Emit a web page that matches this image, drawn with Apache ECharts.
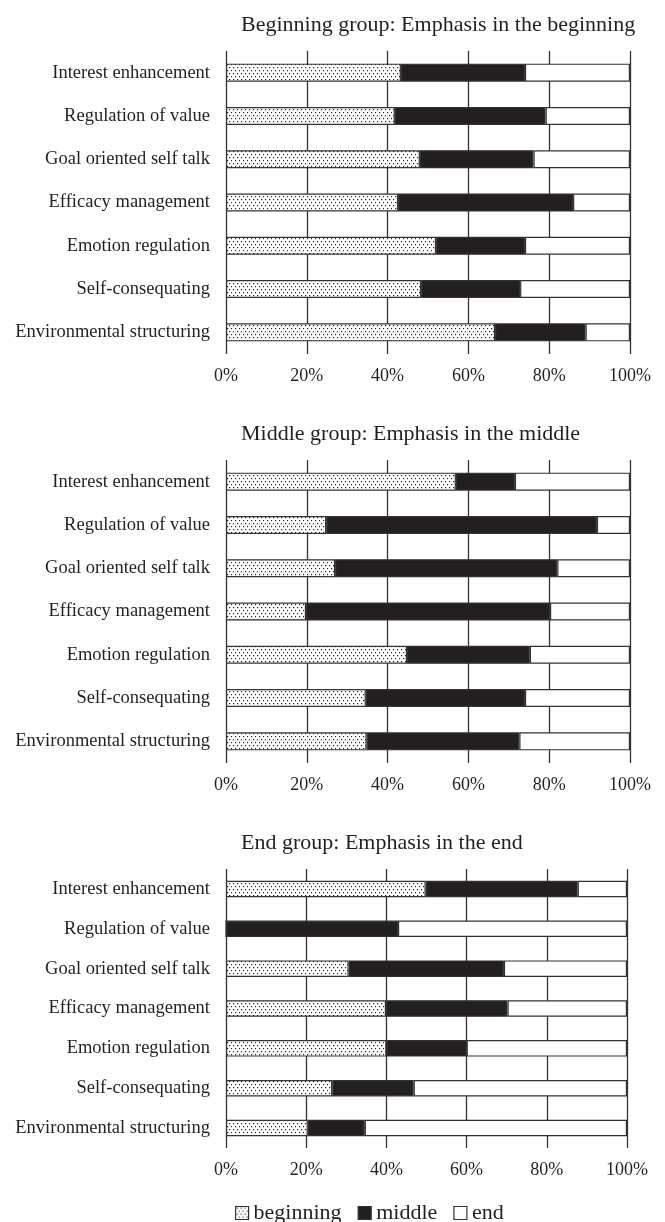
<!DOCTYPE html>
<html>
<head>
<meta charset="utf-8">
<script src="https://cdn.jsdelivr.net/npm/echarts@6/dist/echarts.min.js"></script>
<style>
html, body { margin: 0; padding: 0; background: #fff; }
#main { width: 665px; height: 1222px; }
</style>
</head>
<body>
<div id="main"></div>
<script>
// categories, top to bottom
let cats = ['Interest enhancement', 'Regulation of value', 'Goal oriented self talk',
    'Efficacy management', 'Emotion regulation', 'Self-consequating', 'Environmental structuring'];
let ticks = [0, 20, 40, 60, 80, 100];

let titles = ['Beginning group: Emphasis in the beginning',
    'Middle group: Emphasis in the middle',
    'End group: Emphasis in the end'];

// Beginning group (%)
let begBeginning = [43.3, 41.8, 48.0, 42.6, 52.0, 48.3, 66.6];
let begMiddle    = [30.7, 37.3, 28.1, 43.3, 22.0, 24.5, 22.4];
let begEnd       = [26.0, 20.9, 23.9, 14.1, 26.0, 27.2, 11.0];

// Middle group (%)
let midBeginning = [56.9, 24.8, 27.0, 19.8, 44.8, 34.6, 34.8];
let midMiddle    = [14.6, 67.0, 55.0, 60.4, 30.4, 39.4, 37.8];
let midEnd       = [28.5, 8.2, 18.0, 19.8, 24.8, 26.0, 27.4];

// End group (%)
let endBeginning = [49.8, 0, 30.6, 39.9, 40.0, 26.5, 20.4];
let endMiddle    = [37.9, 42.9, 38.7, 30.3, 20.0, 20.3, 14.2];
let endEnd       = [12.3, 57.1, 30.7, 29.8, 40.0, 53.2, 65.4];

let groups = [
    [begBeginning, begMiddle, begEnd],
    [midBeginning, midMiddle, midEnd],
    [endBeginning, endMiddle, endEnd]
];

let ink = '#231f20';
let lineCol = '#333';
let font = '"Liberation Serif", "DejaVu Serif", serif';

// dotted fill for "beginning"
function dots() {
    let c = document.createElement('canvas');
    c.width = 8;
    c.height = 6;
    let ctx = c.getContext('2d');
    ctx.fillStyle = '#fff';
    ctx.fillRect(0, 0, 8, 6);
    ctx.fillStyle = '#222';
    [[1, 1], [5, 1], [3, 4], [7, 4]].forEach(p => ctx.fillRect(p[0], p[1], 1.2, 1.2));
    return c;
}
let dotFill = { image: dots(), repeat: 'repeat' };

// panel layout
let panels = [
    { title: 14, top: 51, height: 303, right: 35, bar: 18 },
    { title: 423, top: 460, height: 303, right: 35, bar: 18 },
    { title: 832, top: 869, height: 279, right: 38, bar: 16.5 }
];

let names = ['beginning', 'middle', 'end'];
let fills = [dotFill, ink, '#fff'];

let title = [], grid = [], xAxis = [], yAxis = [], series = [];

panels.forEach((p, i) => {
    title.push({
        text: titles[i],
        left: 241,
        top: p.title,
        padding: 0,
        textStyle: { fontFamily: font, fontSize: 22, fontWeight: 'normal', color: ink }
    });
    grid.push({ left: 226, right: p.right, top: p.top, height: p.height });
    xAxis.push({
        type: 'value',
        gridIndex: i,
        min: 0,
        max: 100,
        interval: 20,
        axisLine: { show: false },
        axisTick: { show: false },
        axisLabel: { formatter: '{value}%', fontFamily: font, fontSize: 18, color: ink, margin: 13 },
        splitLine: { show: true, lineStyle: { color: lineCol, width: 1.3 } }
    });
    yAxis.push({
        type: 'category',
        gridIndex: i,
        data: cats,
        inverse: true,
        axisLine: { show: false },
        axisTick: { show: false },
        axisLabel: { fontFamily: font, fontSize: 18.5, color: ink, margin: 16 }
    });
    groups[i].forEach((vals, k) => {
        series.push({
            name: names[k],
            type: 'bar',
            stack: 'g' + i,
            xAxisIndex: i,
            yAxisIndex: i,
            barWidth: p.bar,
            data: vals,
            itemStyle: { color: fills[k], borderColor: lineCol, borderWidth: 1.2 },
            emphasis: { disabled: true }
        });
    });
});

let chart = echarts.init(document.getElementById('main'));
chart.setOption({
    animation: false,
    backgroundColor: '#fff',
    title: title,
    legend: {
        data: names,
        left: 230,
        top: 1197,
        icon: 'rect',
        itemWidth: 13,
        itemHeight: 13,
        itemGap: 16,
        textStyle: { fontFamily: font, fontSize: 22, color: ink },
        itemStyle: { borderColor: lineCol, borderWidth: 1.2 }
    },
    grid: grid,
    xAxis: xAxis,
    yAxis: yAxis,
    series: series
});
</script>
</body>
</html>
